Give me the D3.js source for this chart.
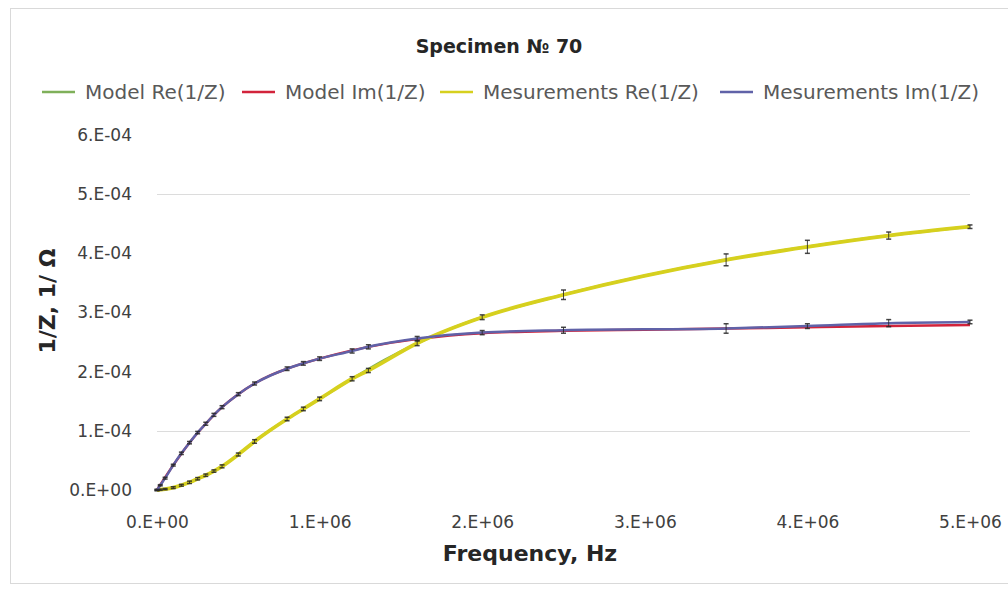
<!DOCTYPE html>
<html>
<head>
<meta charset="utf-8">
<script src="https://cdn.jsdelivr.net/npm/d3@7"></script>
<style>
  html, body { margin: 0; padding: 0; background: #fff; }
  svg { display: block; font-family: "DejaVu Sans", Verdana, sans-serif; }
</style>
</head>
<body>
<svg id="chart" width="1008" height="589"></svg>
<script>
// Model curves: frequency (MHz) and admittance components (×1e-4 1/Ω)
const modelFreqMHz = [0, 0.1, 0.2, 0.3, 0.4, 0.5, 0.6, 0.7, 0.8, 0.9, 1.0, 1.2, 1.4, 1.6, 1.8, 2.0, 2.5, 3.0, 3.5, 4.0, 4.5, 5.0];
const modelRe = [0, 0.04, 0.13, 0.25, 0.40, 0.60, 0.82, 1.02, 1.20, 1.37, 1.54, 1.88, 2.20, 2.48, 2.72, 2.92, 3.30, 3.62, 3.89, 4.11, 4.30, 4.45];
const modelIm = [0, 0.42, 0.80, 1.12, 1.40, 1.62, 1.80, 1.94, 2.05, 2.14, 2.22, 2.36, 2.47, 2.55, 2.61, 2.65, 2.69, 2.71, 2.73, 2.75, 2.77, 2.79];

// Measured points (MHz, ×1e-4 1/Ω) with their error bars
const measFreqMHz = [0, 0.02, 0.05, 0.1, 0.15, 0.2, 0.25, 0.3, 0.35, 0.4, 0.5, 0.6, 0.8, 0.9, 1.0, 1.2, 1.3, 1.6, 2.0, 2.5, 3.5, 4.0, 4.5, 5.0];
const measRe = [0, 0.005, 0.015, 0.04, 0.08, 0.13, 0.19, 0.25, 0.32, 0.40, 0.60, 0.82, 1.20, 1.37, 1.54, 1.88, 2.02, 2.48, 2.92, 3.30, 3.89, 4.11, 4.30, 4.45];
const measReErr = [0.01, 0.01, 0.01, 0.015, 0.015, 0.02, 0.02, 0.02, 0.02, 0.025, 0.025, 0.03, 0.03, 0.03, 0.03, 0.035, 0.035, 0.04, 0.04, 0.08, 0.1, 0.11, 0.06, 0.03];
const measIm = [0, 0.08, 0.20, 0.42, 0.62, 0.80, 0.97, 1.12, 1.27, 1.40, 1.62, 1.80, 2.05, 2.14, 2.22, 2.35, 2.42, 2.56, 2.66, 2.70, 2.73, 2.77, 2.82, 2.84];
const measImErr = [0.01, 0.01, 0.015, 0.015, 0.02, 0.02, 0.02, 0.025, 0.025, 0.025, 0.025, 0.025, 0.03, 0.03, 0.03, 0.035, 0.035, 0.035, 0.035, 0.05, 0.08, 0.04, 0.06, 0.03];

const xTicks = [0, 1e6, 2e6, 3e6, 4e6, 5e6];
const yTicks = [0, 1e-4, 2e-4, 3e-4, 4e-4, 5e-4, 6e-4];
const gridValues = [1e-4, 5e-4];

const seriesInfo = [
  { name: "Model Re(1/Z)", color: "#7fb05a" },
  { name: "Model Im(1/Z)", color: "#d2233b" },
  { name: "Mesurements Re(1/Z)", color: "#d6d01e" },
  { name: "Mesurements Im(1/Z)", color: "#6062a8" }
];

const svg = d3.select("#chart");
const margin = { left: 157, right: 38, top: 135, bottom: 99 };
const W = 1008, H = 589;

const x = d3.scaleLinear().domain([0, 5e6]).range([margin.left, W - margin.right]);
const y = d3.scaleLinear().domain([0, 6e-4]).range([H - margin.bottom, margin.top]);

// chart frame
svg.append("rect")
  .attr("x", 10.5).attr("y", 8.5)
  .attr("width", 1010).attr("height", 575)
  .attr("fill", "#fff").attr("stroke", "#d9d9d9").attr("stroke-width", 1);

// horizontal gridlines
svg.append("g").selectAll("line")
  .data(gridValues)
  .join("line")
  .attr("x1", x(0)).attr("x2", x(5e6))
  .attr("y1", d => Math.round(y(d)) + 0.5).attr("y2", d => Math.round(y(d)) + 0.5)
  .attr("stroke", "#dcdcdc").attr("stroke-width", 1);

const fmtY = d => d === 0 ? "0.E+00" : `${Math.round(d / 1e-4)}.E-04`;
const fmtX = d => d === 0 ? "0.E+00" : `${Math.round(d / 1e6)}.E+06`;

const tickFont = 17;
const yAxis = svg.append("g")
  .attr("transform", `translate(${x(0) - 25},0)`)
  .call(d3.axisLeft(y).tickValues(yTicks).tickFormat(fmtY).tickSize(0).tickPadding(0));
yAxis.select(".domain").remove();
yAxis.selectAll("text").attr("font-size", tickFont).attr("fill", "#404040")
  .attr("font-family", "DejaVu Sans, Verdana, sans-serif");

const xAxis = svg.append("g")
  .attr("transform", `translate(0,${y(0) + 26})`)
  .call(d3.axisBottom(x).tickValues(xTicks).tickFormat(fmtX).tickSize(0).tickPadding(0));
xAxis.select(".domain").remove();
xAxis.selectAll("text").attr("font-size", tickFont).attr("fill", "#404040")
  .attr("font-family", "DejaVu Sans, Verdana, sans-serif");

// titles
svg.append("text").attr("x", 499).attr("y", 53).attr("text-anchor", "middle")
  .attr("font-size", 19).attr("font-weight", "bold").attr("fill", "#262626")
  .text("Specimen № 70");
svg.append("text").attr("x", 530).attr("y", 561).attr("text-anchor", "middle")
  .attr("font-size", 22).attr("font-weight", "bold").attr("fill", "#262626")
  .text("Frequency, Hz");
svg.append("text")
  .attr("transform", "translate(55,301) rotate(-90)")
  .attr("text-anchor", "middle")
  .attr("font-size", 22).attr("font-weight", "bold").attr("fill", "#262626")
  .text("1/Z, 1/ Ω");

// legend
const legendX = [42, 242, 440, 720];
const legend = svg.append("g");
seriesInfo.forEach((s, i) => {
  const g = legend.append("g").attr("transform", `translate(${legendX[i]},92)`);
  g.append("line").attr("x1", 0).attr("x2", 33).attr("y1", 0).attr("y2", 0)
    .attr("stroke", s.color).attr("stroke-width", 2.5);
  g.append("text").attr("x", 43).attr("y", 7).attr("font-size", 20)
    .attr("fill", "#595959").text(s.name);
});

const line = d3.line()
  .x(d => x(d[0] * 1e6))
  .y(d => y(d[1] * 1e-4))
  .curve(d3.curveMonotoneX);

const plot = svg.append("g");

const modelReData = modelFreqMHz.map((f, i) => [f, modelRe[i]]);
const modelImData = modelFreqMHz.map((f, i) => [f, modelIm[i]]);
const measReData = measFreqMHz.map((f, i) => [f, measRe[i], measReErr[i]]);
const measImData = measFreqMHz.map((f, i) => [f, measIm[i], measImErr[i]]);

plot.append("path").datum(modelReData).attr("d", line)
  .attr("fill", "none").attr("stroke", seriesInfo[0].color).attr("stroke-width", 2.5);
plot.append("path").datum(modelImData).attr("d", line)
  .attr("fill", "none").attr("stroke", seriesInfo[1].color).attr("stroke-width", 2.5);

function drawMeasured(data, color, width) {
  plot.append("path").datum(data).attr("d", line)
    .attr("fill", "none").attr("stroke", color).attr("stroke-width", width)
    .attr("stroke-linejoin", "round");
  const eb = plot.append("g").attr("stroke", "#262626").attr("stroke-opacity", 0.85);
  eb.selectAll("line.bar").data(data).join("line").attr("class", "bar")
    .attr("x1", d => x(d[0] * 1e6)).attr("x2", d => x(d[0] * 1e6))
    .attr("y1", d => y((d[1] - d[2]) * 1e-4)).attr("y2", d => y((d[1] + d[2]) * 1e-4))
    .attr("stroke-width", 1);
  [-1, 1].forEach(sign => {
    eb.selectAll(`line.cap${sign}`).data(data).join("line").attr("class", `cap${sign}`)
      .attr("x1", d => x(d[0] * 1e6) - 2.5).attr("x2", d => x(d[0] * 1e6) + 2.5)
      .attr("y1", d => y((d[1] + sign * d[2]) * 1e-4)).attr("y2", d => y((d[1] + sign * d[2]) * 1e-4))
      .attr("stroke-width", 1.5);
  });
}

drawMeasured(measReData, seriesInfo[2].color, 3.8);
drawMeasured(measImData, seriesInfo[3].color, 2.5);
</script>
</body>
</html>
